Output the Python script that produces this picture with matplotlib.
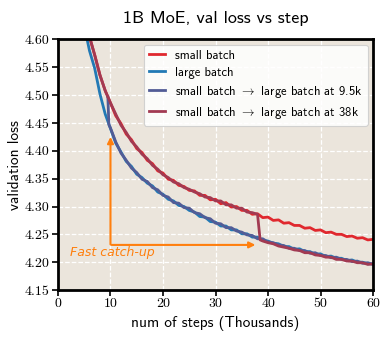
import matplotlib
matplotlib.use("Agg")
import matplotlib.pyplot as plt

plt.rcParams['mathtext.fontset'] = 'cm'
plt.rcParams['axes.unicode_minus'] = False

# ---- data (steps in thousands, validation loss) ----
steps = list(range(4, 61))
large_batch = [4.700, 4.625, 4.580, 4.548, 4.502, 4.466, 4.440, 4.414, 4.398, 4.381,
               4.372, 4.358, 4.352, 4.342, 4.337, 4.326, 4.322, 4.313, 4.310, 4.302,
               4.300, 4.293, 4.290, 4.282, 4.281, 4.273, 4.272, 4.265, 4.265, 4.258,
               4.258, 4.251, 4.251, 4.245, 4.245, 4.239, 4.238, 4.234, 4.233, 4.228,
               4.228, 4.223, 4.224, 4.219, 4.219, 4.214, 4.215, 4.210, 4.211, 4.207,
               4.207, 4.203, 4.204, 4.200, 4.200, 4.197, 4.197]
small_batch = [4.760, 4.680, 4.605, 4.572, 4.536, 4.508, 4.486, 4.463, 4.449, 4.430,
               4.420, 4.404, 4.397, 4.383, 4.377, 4.364, 4.360, 4.349, 4.347, 4.338,
               4.336, 4.329, 4.328, 4.320, 4.320, 4.312, 4.313, 4.305, 4.307, 4.299,
               4.300, 4.293, 4.293, 4.286, 4.287, 4.280, 4.281, 4.275, 4.276, 4.270,
               4.271, 4.266, 4.266, 4.261, 4.262, 4.257, 4.258, 4.253, 4.254, 4.250,
               4.250, 4.246, 4.247, 4.243, 4.244, 4.240, 4.241]
switch_95_steps = [9.5, 9.7] + list(range(10, 61))
switch_95 = [4.497, 4.447,
             4.441, 4.416, 4.396, 4.383, 4.369, 4.361, 4.349, 4.345, 4.334, 4.330,
             4.320, 4.317, 4.307, 4.306, 4.298, 4.297, 4.289, 4.287, 4.280, 4.278,
             4.270, 4.269, 4.262, 4.262, 4.256, 4.254, 4.249, 4.248, 4.242, 4.242,
             4.236, 4.235, 4.231, 4.230, 4.225, 4.225, 4.221, 4.221, 4.216, 4.217,
             4.212, 4.212, 4.208, 4.209, 4.205, 4.205, 4.201, 4.202, 4.198, 4.199,
             4.196]
switch_38_steps = list(range(4, 39)) + [38.5] + list(range(39, 61))
switch_38 = [4.760, 4.680, 4.605, 4.572, 4.536, 4.508, 4.486, 4.466, 4.446, 4.433,
             4.417, 4.407, 4.394, 4.386, 4.374, 4.367, 4.357, 4.352, 4.344, 4.341,
             4.334, 4.331, 4.326, 4.323, 4.317, 4.316, 4.310, 4.310, 4.303, 4.303,
             4.297, 4.297, 4.290, 4.289, 4.286,
             4.240,
             4.238, 4.235, 4.233, 4.229, 4.227, 4.225, 4.222, 4.221, 4.217, 4.217,
             4.213, 4.212, 4.209, 4.209, 4.205, 4.205, 4.202, 4.202, 4.199, 4.199,
             4.196, 4.197]

series_labels = ['small batch', 'large batch',
                 r'small batch $\rightarrow$ large batch at 9.5k',
                 r'small batch $\rightarrow$ large batch at 38k']
colors = ['#e0282e', '#2279b5', '#525c96', '#a23a52']
x_ticks = [0, 10, 20, 30, 40, 50, 60]
y_ticks = [4.15, 4.20, 4.25, 4.30, 4.35, 4.40, 4.45, 4.50, 4.55, 4.60]

fig = plt.figure(figsize=(3.89, 3.39), dpi=100)
ax = fig.add_axes([0.149, 0.1445, 0.81, 0.739])
ax.set_facecolor('#ebe5dc')

lw = 2.0
ax.plot(steps, small_batch, color=colors[0], lw=lw, label=series_labels[0])
ax.plot(steps, large_batch, color=colors[1], lw=lw, label=series_labels[1])
ax.plot(switch_95_steps, switch_95, color=colors[2], lw=lw, label=series_labels[2])
ax.plot(switch_38_steps, switch_38, color=colors[3], lw=lw, label=series_labels[3])

ax.set_xlim(0, 60)
ax.set_ylim(4.15, 4.60)
ax.set_xticks(x_ticks)
ax.set_yticks(y_ticks)
ax.set_xticklabels([str(t) for t in x_ticks], fontfamily='cmr10', fontsize=10)
ax.set_yticklabels(['%.2f' % t for t in y_ticks], fontfamily='cmr10', fontsize=10)
ax.tick_params(direction='out', length=4, width=1.2, color='black', pad=2)
ax.grid(True, color='white', linestyle='--', linewidth=0.9)
ax.set_axisbelow(True)
for s in ax.spines.values():
    s.set_linewidth(2.0)
    s.set_color('black')

ax.set_xlabel('num of steps (Thousands)', fontfamily='cmss10', fontsize=11, labelpad=4)
ax.set_ylabel('validation loss', fontfamily='cmss10', fontsize=11, labelpad=2)
ax.set_title('1B MoE, val loss vs step', fontfamily='cmss10', fontsize=13, pad=12)

orange = '#ff7f0e'
ax.annotate('', xy=(10, 4.425), xytext=(10, 4.232),
            arrowprops=dict(arrowstyle='-|>', color=orange, lw=1.5, mutation_scale=9,
                            shrinkA=0, shrinkB=0))
ax.annotate('', xy=(37.6, 4.231), xytext=(10.2, 4.231),
            arrowprops=dict(arrowstyle='-|>', color=orange, lw=1.5, mutation_scale=9,
                            shrinkA=0, shrinkB=0))
ax.text(2.2, 4.218, 'Fast catch-up', color=orange, fontstyle='italic',
        fontfamily='DejaVu Sans', fontsize=9, va='center', ha='left')

leg = ax.legend(loc='upper right', prop={'family': 'cmss10', 'size': 9.1},
                frameon=True, fancybox=True, framealpha=0.85, edgecolor='#cccccc',
                handlelength=1.3, borderaxespad=0.4, labelspacing=0.4)
leg.get_frame().set_linewidth(0.8)

fig.savefig('out.png', dpi=100)
